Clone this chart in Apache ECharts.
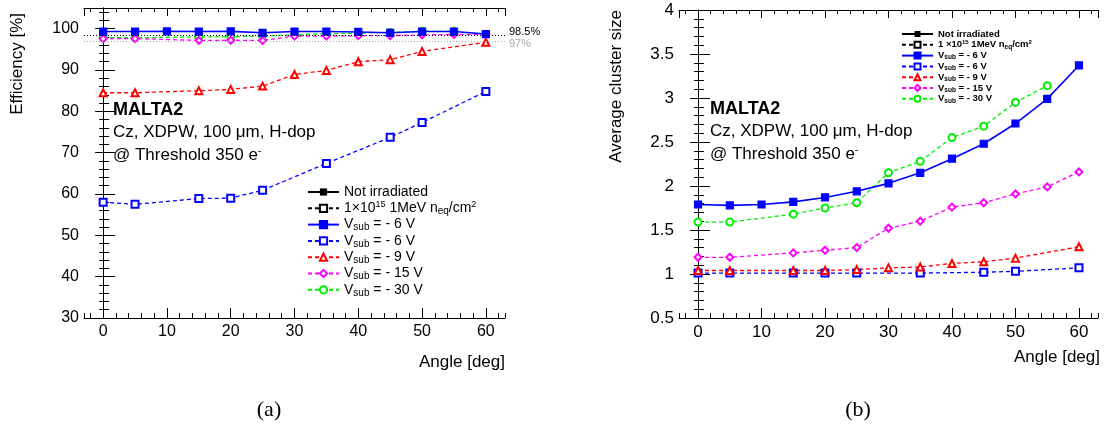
<!DOCTYPE html>
<html>
<head>
<meta charset="utf-8">
<script src="https://cdn.jsdelivr.net/npm/echarts@6/dist/echarts.min.js"></script>
<style>
html, body { margin: 0; padding: 0; background: #fff; }
#main { width: 1106px; height: 428px; }
</style>
</head>
<body>
<div id="main"></div>
<script>
// angles measured for each data set
var angAll = [0, 5, 10, 15, 20, 25, 30, 35, 40, 45, 50, 55, 60];
var angIrr6 = [0, 5, 15, 20, 25, 35, 45, 50, 60];
var angIrr9 = [0, 5, 15, 20, 25, 30, 35, 40, 45, 50, 60];
var angIrr15 = [0, 5, 15, 20, 25, 30, 35, 40, 45, 50, 55, 60];
var angIrr30 = [0, 5, 15, 20, 25, 30, 35, 40, 45, 50, 55];

// (a) efficiency [%]
var eff6 = [99.3, 99.3, 99.35, 99.3, 99.35, 99.0, 99.3, 99.3, 99.2, 99.0, 99.3, 99.3, 98.7];
var effIrr6 = [58.0, 57.5, 58.9, 59.0, 60.9, 67.4, 73.7, 77.3, 84.8];
var effIrr9 = [84.5, 84.5, 85.0, 85.3, 86.1, 88.9, 89.9, 92.0, 92.5, 94.5, 96.7];
var effIrr15 = [97.6, 97.6, 97.15, 97.2, 97.15, 98.2, 98.2, 98.3, 98.3, 98.5, 98.6, 98.6];
var effIrr30 = [97.8, 97.8, 98.0, 98.05, 98.2, 98.5, 98.8, 98.9, 99.1, 99.35, 99.35];
var effRefLines = [98.5, 97];
var effRefLabels = ['98.5%', '97%'];

// (b) average cluster size
var cs6 = [1.79, 1.78, 1.79, 1.82, 1.87, 1.94, 2.03, 2.15, 2.31, 2.48, 2.71, 2.99, 3.37];
var csIrr6 = [1.01, 1.01, 1.01, 1.01, 1.01, 1.01, 1.02, 1.03, 1.07];
var csIrr9 = [1.04, 1.04, 1.04, 1.04, 1.05, 1.07, 1.08, 1.12, 1.14, 1.18, 1.31];
var csIrr15 = [1.19, 1.19, 1.24, 1.27, 1.30, 1.52, 1.60, 1.76, 1.81, 1.91, 1.99, 2.16];
var csIrr30 = [1.59, 1.59, 1.68, 1.75, 1.81, 2.15, 2.28, 2.55, 2.68, 2.95, 3.14];

var legendNames = ['Not irradiated', 'irr', 'v6', 'v6irr', 'v9', 'v15', 'v30'];

var FONT = 'Liberation Sans, Arial, sans-serif';

function pairs(xs, ys) {
    var out = [];
    for (var i = 0; i < xs.length; i++) out.push([xs[i], ys[i]]);
    return out;
}

function legendText(name, sp) {
    var s = sp ? ' ' : '';
    switch (name) {
        case 'Not irradiated': return '{n|Not irradiated}';
        case 'irr': return '{n|1' + s + '\u00d710}{sup|15}{n| 1MeV n}{sub|eq}{n|/cm}{sup|2}';
        case 'v6': return '{n|V}{sub|sub}{n| = - 6 V}';
        case 'v6irr': return '{n|V}{sub|sub}{n| = - 6 V}';
        case 'v9': return '{n|V}{sub|sub}{n| = - 9 V}';
        case 'v15': return '{n|V}{sub|sub}{n| = - 15 V}';
        case 'v30': return '{n|V}{sub|sub}{n| = - 30 V}';
    }
    return name;
}

// 4 x axes + 4 y axes per grid: labelled major, minor, mirrored major, mirrored minor
function xAxes(grid, labelSize) {
    var base = { type: 'value', gridIndex: grid, min: -3, max: 63, splitLine: { show: false } };
    return [
        Object.assign({}, base, { position: 'bottom', splitNumber: 6,
            axisLine: { show: true, lineStyle: { color: '#000', width: 1 } },
            axisTick: { inside: true, length: 10, lineStyle: { color: '#000' } },
            axisLabel: { color: '#000', fontSize: labelSize, fontFamily: FONT, margin: 6, showMinLabel: false, showMaxLabel: false } }),
        Object.assign({}, base, { position: 'bottom', splitNumber: 33,
            axisLine: { show: false }, axisLabel: { show: false },
            axisTick: { inside: true, length: 5, lineStyle: { color: '#000' } } }),
        Object.assign({}, base, { position: 'top', splitNumber: 6,
            axisLine: { show: true, lineStyle: { color: '#000', width: 1 } },
            axisTick: { inside: true, length: 8, lineStyle: { color: '#000' } },
            axisLabel: { show: false } }),
        Object.assign({}, base, { position: 'top', splitNumber: 33,
            axisLine: { show: false }, axisLabel: { show: false },
            axisTick: { inside: true, length: 4, lineStyle: { color: '#000' } } })
    ];
}

function yAxes(grid, min, max, major, minor, labelSize) {
    var base = { type: 'value', gridIndex: grid, min: min, max: max, splitLine: { show: false } };
    return [
        Object.assign({}, base, { position: 'left', interval: major,
            axisLine: { show: true, lineStyle: { color: '#000', width: 1 } },
            axisTick: { inside: true, length: 12, lineStyle: { color: '#000' } },
            axisLabel: { color: '#000', fontSize: labelSize, fontFamily: FONT, margin: 5,
                showMaxLabel: grid === 1 } }),
        Object.assign({}, base, { position: 'left', interval: minor,
            axisLine: { show: false }, axisLabel: { show: false },
            axisTick: { inside: true, length: 6, lineStyle: { color: '#000' } } }),
        Object.assign({}, base, { position: 'right', interval: major,
            axisLine: { show: true, lineStyle: { color: '#000', width: 1 } },
            axisTick: { inside: true, length: 8, lineStyle: { color: '#000' } },
            axisLabel: { show: false } }),
        Object.assign({}, base, { position: 'right', interval: minor,
            axisLine: { show: false }, axisLabel: { show: false },
            axisTick: { inside: true, length: 4, lineStyle: { color: '#000' } } })
    ];
}

function dataSeries(g, name, xs, ys, color, symbol, dashed, size) {
    return {
        name: name, type: 'line', xAxisIndex: g * 4, yAxisIndex: g * 4,
        data: pairs(xs, ys), symbol: symbol, symbolSize: size || 7,
        color: color,
        itemStyle: { color: color, borderColor: color, borderWidth: 1.2 },
        lineStyle: { color: color, width: dashed ? 1.3 : 1.6, type: dashed ? [4, 3] : 'solid' },
        z: dashed ? 3 : 4
    };
}

function dummySeries(g, name, symbol, dashed) {
    return {
        name: name, type: 'line', xAxisIndex: g * 4, yAxisIndex: g * 4, data: [],
        symbol: symbol, symbolSize: 7, color: '#000',
        itemStyle: { color: '#000', borderColor: '#000' },
        lineStyle: { color: '#000', width: dashed ? 1.3 : 1.6, type: dashed ? [4, 3] : 'solid' }
    };
}

var seriesA = [
    dummySeries(0, 'Not irradiated', 'rect', false),
    dummySeries(0, 'irr', 'emptyRect', true),
    dataSeries(0, 'v6irr', angIrr6, effIrr6, '#0000ff', 'emptyRect', true),
    dataSeries(0, 'v9', angIrr9, effIrr9, '#ff0000', 'emptyTriangle', true),
    dataSeries(0, 'v30', angIrr30, effIrr30, '#00ee00', 'emptyCircle', true),
    dataSeries(0, 'v15', angIrr15, effIrr15, '#ff00ff', 'emptyDiamond', true),
    dataSeries(0, 'v6', angAll, eff6, '#0000ff', 'rect', false)
];
seriesA[6].markLine = {
    silent: true, symbol: 'none', animation: false, label: { show: false },
    data: [
        { yAxis: effRefLines[0], lineStyle: { color: '#000', type: [1, 2], width: 1 } },
        { yAxis: effRefLines[1], lineStyle: { color: '#aaa', type: [1, 2], width: 1 } }
    ]
};

var seriesB = [
    dummySeries(1, 'Not irradiated', 'rect', false),
    dummySeries(1, 'irr', 'emptyRect', true),
    dataSeries(1, 'v6irr', angIrr6, csIrr6, '#0000ff', 'emptyRect', true),
    dataSeries(1, 'v9', angIrr9, csIrr9, '#ff0000', 'emptyTriangle', true),
    dataSeries(1, 'v15', angIrr15, csIrr15, '#ff00ff', 'emptyDiamond', true),
    dataSeries(1, 'v30', angIrr30, csIrr30, '#00ee00', 'emptyCircle', true),
    dataSeries(1, 'v6', angAll, cs6, '#0000ff', 'rect', false)
];

function annotation(left, top) {
    return [
        { type: 'text', left: left, top: top, style: { text: 'MALTA2', font: 'bold 18px ' + FONT, fill: '#000' } },
        { type: 'text', left: left, top: top + 23, style: { text: 'Cz, XDPW, 100 \u03bcm, H-dop', font: '17px ' + FONT, fill: '#000' } },
        { type: 'text', left: left, top: top + 44, style: {
            text: '{n|@ Threshold 350 e}{sup|-}',
            rich: { n: { fontSize: 17, fontFamily: FONT, color: '#000', lineHeight: 20 },
                    sup: { fontSize: 11, fontFamily: FONT, color: '#000', lineHeight: 8, verticalAlign: 'top' } } } }
    ];
}

var chart = echarts.init(document.getElementById('main'));
chart.setOption({
    animation: false,
    backgroundColor: '#fff',
    grid: [
        { left: 84, top: 8, width: 421, height: 310 },
        { left: 679, top: 10, width: 419, height: 308 }
    ],
    xAxis: xAxes(0, 16).concat(xAxes(1, 17)),
    yAxis: yAxes(0, 30, 105, 10, 2, 16).concat(yAxes(1, 0.5, 4, 0.5, 0.1, 17)),
    legend: [
        {
            orient: 'vertical', left: 302, top: 180, itemWidth: 31, itemHeight: 9, itemGap: 1.3,
            selectedMode: false, data: legendNames,
            formatter: function (n) { return legendText(n, false); },
            textStyle: { rich: {
                n: { fontSize: 14, fontFamily: FONT, color: '#000', lineHeight: 16 },
                sub: { fontSize: 10, fontFamily: FONT, color: '#000', lineHeight: 1, verticalAlign: 'bottom' },
                sup: { fontSize: 9, fontFamily: FONT, color: '#000', lineHeight: 4, verticalAlign: 'top' }
            } }
        },
        {
            orient: 'vertical', left: 896, top: 24, itemWidth: 31, itemHeight: 7.5, itemGap: 0.3,
            selectedMode: false, data: legendNames,
            formatter: function (n) { return legendText(n, true); },
            textStyle: { rich: {
                n: { fontSize: 9.5, fontWeight: 'bold', fontFamily: FONT, color: '#000', lineHeight: 11 },
                sub: { fontSize: 6.5, fontWeight: 'bold', fontFamily: FONT, color: '#000', lineHeight: 1, verticalAlign: 'bottom' },
                sup: { fontSize: 6, fontWeight: 'bold', fontFamily: FONT, color: '#000', lineHeight: 3, verticalAlign: 'top' }
            } }
        }
    ],
    graphic: annotation(113, 101).concat(annotation(710, 100)).concat([
        { type: 'text', x: 509, y: 32, style: { text: effRefLabels[0], font: '11px ' + FONT, fill: '#000', align: 'left', verticalAlign: 'middle' } },
        { type: 'text', x: 509, y: 44, style: { text: effRefLabels[1], font: '11px ' + FONT, fill: '#aaa', align: 'left', verticalAlign: 'middle' } },
        { type: 'text', x: 17, y: 13, rotation: Math.PI / 2, style: { text: 'Efficiency [%]', font: '17px ' + FONT, fill: '#000', align: 'right', verticalAlign: 'middle' } },
        { type: 'text', x: 616, y: 10, rotation: Math.PI / 2, style: { text: 'Average cluster size', font: '17px ' + FONT, fill: '#000', align: 'right', verticalAlign: 'middle' } },
        { type: 'text', x: 505, y: 362, style: { text: 'Angle [deg]', font: '17px ' + FONT, fill: '#000', align: 'right', verticalAlign: 'middle' } },
        { type: 'text', x: 1100, y: 357, style: { text: 'Angle [deg]', font: '17px ' + FONT, fill: '#000', align: 'right', verticalAlign: 'middle' } },
        { type: 'text', x: 269, y: 410, style: { text: '(a)', font: '22px Liberation Serif, Times New Roman, serif', fill: '#000', align: 'center', verticalAlign: 'middle' } },
        { type: 'text', x: 858, y: 410, style: { text: '(b)', font: '22px Liberation Serif, Times New Roman, serif', fill: '#000', align: 'center', verticalAlign: 'middle' } }
    ]),
    series: seriesA.concat(seriesB)
});
</script>
</body>
</html>
